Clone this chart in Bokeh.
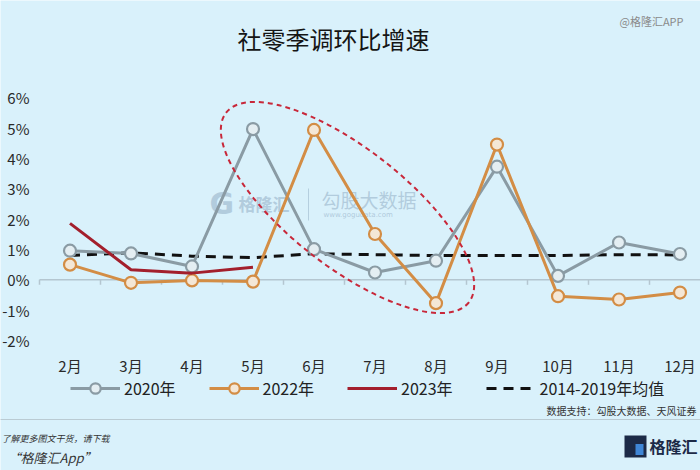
from bokeh.plotting import figure
from bokeh.models import Range1d, FixedTicker, Legend, LegendItem, LinearAxis
from bokeh.embed import file_html
from bokeh.resources import INLINE
from bokeh.core.properties import value
import math

# ---------------- data ----------------
months = ["2月", "3月", "4月", "5月", "6月", "7月", "8月", "9月", "10月", "11月", "12月"]
y2020 = [0.96, 0.87, 0.44, 4.97, 1.01, 0.24, 0.63, 3.73, 0.13, 1.23, 0.85]
y2022 = [0.50, -0.10, -0.02, -0.06, 4.94, 1.51, -0.77, 4.46, -0.54, -0.65, -0.42]
y2023 = [1.86, 0.33, 0.22, 0.41]
avg_2014_2019 = [0.80, 0.89, 0.78, 0.73, 0.86, 0.83, 0.80, 0.80, 0.80, 0.83, 0.82]
y_ticks = [-2, -1, 0, 1, 2, 3, 4, 5, 6]
y_tick_labels = ["-2%", "-1%", "0%", "1%", "2%", "3%", "4%", "5%", "6%"]

x_idx = list(range(len(months)))

BG = "#d9f1fb"
CJK = "Noto Sans CJK SC"
GRAY = "#8a9ba4"
ORANGE = "#d38d45"
RED = "#a31f2c"

# page geometry (px): the frame fills the whole page
W, H = 700, 470
AX_LEFT = 39          # px where the plotting area starts
PX_PER_X = 61.0       # px per month
ZERO_PX = 279.3       # px of the 0% line
PX_PER_Y = 30.33      # px per 1%
AX_BOTTOM = 349.1     # px of the bottom of the plotting area


def dx(px):
    return -0.5 + (px - AX_LEFT) / PX_PER_X


def dy(py):
    return (ZERO_PX - py) / PX_PER_Y


p = figure(width=W, height=H, output_backend="svg", toolbar_location=None,
           x_range=Range1d(dx(0), dx(W)), y_range=Range1d(dy(H), dy(0)),
           x_axis_location=None, y_axis_location=None,
           min_border=0, min_border_left=0, min_border_right=0,
           min_border_top=0, min_border_bottom=0,
           background_fill_color=BG, border_fill_color=BG, outline_line_color=None)
p.xgrid.visible = False
p.ygrid.visible = False

# axes fixed inside the page
xa = LinearAxis(fixed_location=dy(AX_BOTTOM), ticker=FixedTicker(ticks=x_idx))
xa.major_label_overrides = {i: m for i, m in enumerate(months)}
xa.axis_line_color = None
xa.major_tick_line_color = None
xa.major_tick_out = 0
xa.major_tick_in = 0
xa.minor_tick_line_color = None
xa.major_label_standoff = 5
xa.major_label_text_font = CJK
xa.major_label_text_font_size = "15px"
xa.major_label_text_color = "#2a2a2a"
p.add_layout(xa, "below")

ya = LinearAxis(fixed_location=-0.5, ticker=FixedTicker(ticks=y_ticks))
ya.major_label_overrides = {t: l for t, l in zip(y_ticks, y_tick_labels)}
ya.axis_line_color = None
ya.major_tick_line_color = None
ya.major_tick_out = 0
ya.major_tick_in = 0
ya.minor_tick_line_color = None
ya.major_label_standoff = 10
ya.major_label_text_font = CJK
ya.major_label_text_font_size = "15px"
ya.major_label_text_color = "#2a2a2a"
p.add_layout(ya, "left")

# title and corner mark
p.text(x=[dx(237)], y=[dy(38)], text=["社零季调环比增速"], text_font=value(CJK),
       text_font_size="24px", text_color="#151515",
       text_baseline="middle", text_align="left")
p.text(x=[dx(619)], y=[dy(20)], text=["@格隆汇APP"], text_font=value(CJK),
       text_font_size="11px", text_color="#8a8a8a",
       text_baseline="middle", text_align="left")

# zero line + category boundary ticks
p.segment(x0=[-0.5], y0=[0], x1=[dx(W)], y1=[0], line_color="#b4c6d0", line_width=1.5)
bounds = [i - 0.5 for i in range(len(months) + 1)]
p.segment(x0=bounds, y0=[0] * len(bounds), x1=bounds, y1=[dy(ZERO_PX + 5)] * len(bounds),
          line_color="#b4c6d0", line_width=1.5)

# faint watermark in plot
wm = "#a5c0d3"
p.text(x=[dx(209)], y=[dy(203)], text=["G"], text_font=value("DejaVu Sans"),
       text_font_size="30px", text_font_style="bold", text_color=wm, text_alpha=0.75,
       text_baseline="middle", text_align="left")
p.text(x=[dx(238)], y=[dy(203)], text=["格隆汇"], text_font=value(CJK),
       text_font_size="17px", text_font_style="bold", text_color=wm, text_alpha=0.75,
       text_baseline="middle", text_align="left")
p.segment(x0=[dx(308)], y0=[dy(188)], x1=[dx(308)], y1=[dy(220)],
          line_color=wm, line_alpha=0.7, line_width=1)
p.text(x=[dx(321)], y=[dy(199)], text=["勾股大数据"], text_font=value(CJK),
       text_font_size="19px", text_color=wm, text_alpha=0.75,
       text_baseline="middle", text_align="left")
p.text(x=[dx(323)], y=[dy(214)], text=["www.gogudata.com"],
       text_font=value("DejaVu Sans"), text_font_size="7px", text_color=wm, text_alpha=0.8,
       text_baseline="middle", text_align="left")

# series
r_avg = p.line(x_idx, avg_2014_2019, line_color="#111111", line_width=3, line_dash="10 7")
r20l = p.line(x_idx, y2020, line_color=GRAY, line_width=3)
r20m = p.scatter(x_idx, y2020, size=12, marker="circle", fill_color="#e4eef2",
                 line_color=GRAY, line_width=2.2)
r22l = p.line(x_idx, y2022, line_color=ORANGE, line_width=3)
r22m = p.scatter(x_idx, y2022, size=12, marker="circle", fill_color="#f4e7d6",
                 line_color=ORANGE, line_width=2.2)
r23 = p.line(x_idx[:len(y2023)], y2023, line_color=RED, line_width=3)

# dashed highlight ellipse
p.ellipse(x=[dx(347)], y=[dy(207)], width=[308], height=[118],
          width_units="screen", height_units="screen",
          angle=[-math.radians(38)], fill_alpha=0,
          line_color="#c8283a", line_width=2, line_dash="5 4")

# legend
legend = Legend(items=[
    LegendItem(label="2020年", renderers=[r20l, r20m]),
    LegendItem(label="2022年", renderers=[r22l, r22m]),
    LegendItem(label="2023年", renderers=[r23]),
    LegendItem(label="2014-2019年均值", renderers=[r_avg]),
], orientation="horizontal", location=(70, 69),
    glyph_width=50, glyph_height=26, label_standoff=4, spacing=33,
    padding=0, margin=0, border_line_alpha=0, background_fill_alpha=0,
    label_text_font=CJK, label_text_font_size="16px", label_text_color="#222222")
p.add_layout(legend)

# ---------------- footer ----------------
p.text(x=[dx(546)], y=[dy(410)], text=["数据支持：勾股大数据、天风证券"], text_font=value(CJK),
       text_font_size="10px", text_color="#333333", text_baseline="middle", text_align="left")
p.line(x=[dx(0), dx(W)], y=[dy(419), dy(419)], line_color="#9aa4aa", line_width=1,
       line_dash="1 1")
p.text(x=[dx(1)], y=[dy(438)], text=["了解更多图文干货，请下载"], text_font=value(CJK),
       text_font_size="9px", text_font_style="italic", text_color="#333333",
       text_baseline="middle", text_align="left")
p.text(x=[dx(7)], y=[dy(457)], text=["“格隆汇App”"], text_font=value(CJK),
       text_font_size="13px", text_font_style="italic", text_color="#333333",
       text_baseline="middle", text_align="left")
p.rect(x=[dx(635)], y=[dy(446)], width=[22], height=[22], width_units="screen",
       height_units="screen", fill_color="#1c2a47", line_color=None)
p.rect(x=[dx(639)], y=[dy(449)], width=[8], height=[11], width_units="screen",
       height_units="screen", fill_color="#3f86d6", line_color=None)
p.text(x=[dx(649)], y=[dy(445)], text=["格隆汇"], text_font=value(CJK),
       text_font_size="16px", text_font_style="bold", text_color="#1c2a47",
       text_baseline="middle", text_align="left")

open("out.html", "w").write(file_html(p, INLINE))
